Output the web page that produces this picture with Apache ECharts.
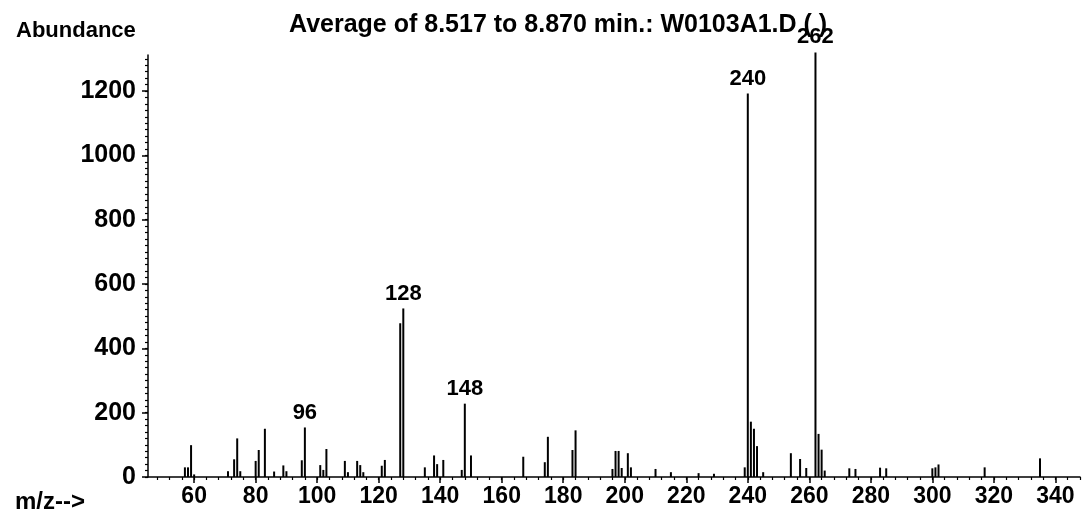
<!DOCTYPE html>
<html><head><meta charset="utf-8">
<script src="https://cdn.jsdelivr.net/npm/echarts@6/dist/echarts.min.js"></script>
<style>html,body{margin:0;padding:0;background:#fff}#c{width:1082px;height:510px}</style>
</head><body><div id="c"></div>
<script>
// m/z values of the peaks
const mz = [57,58,59,60,71,73,74,75,80,81,83,86,89,90,95,96,101,102,103,109,110,113,114,115,121,122,
  127,128,135,138,139,141,147,148,150,167,174,175,183,184,196,197,198,199,201,202,210,215,224,229,
  239,240,241,242,243,245,254,257,259,262,263,264,265,273,275,283,285,300,301,302,317,335];
// abundance of each peak
const abundance = [30,30,99,8,18,55,120,18,50,84,150,17,36,18,52,154,37,22,87,50,15,50,37,15,35,53,
  478,524,30,67,40,53,22,228,67,63,46,125,84,145,25,81,81,28,74,30,25,15,12,10,
  30,1192,172,150,96,15,74,56,28,1320,134,85,20,27,25,29,27,27,30,39,30,58];
// peaks that carry an m/z label
const labeledPeaks = [96,128,148,240,262];
// axis tick labels
const xTickLabels = [60,80,100,120,140,160,180,200,220,240,260,280,300,320,340];
const xMinorTicks = [48,52,56,60,64,68,72,76,80,84,88,92,96,100,104,108,112,116,120,124,128,132,136,140,144,148,152,156,160,164,168,172,176,180,184,188,192,196,200,204,208,212,216,220,224,228,232,236,240,244,248,252,256,260,264,268,272,276,280,284,288,292,296,300,304,308,312,316,320,324,328,332,336,340,344,348];
const yTickLabels = [0,200,400,600,800,1000,1200];
const yMinorTicks = [0,20,40,60,80,100,120,140,160,180,200,220,240,260,280,300,320,340,360,380,400,420,440,460,480,500,520,540,560,580,600,620,640,660,680,700,720,740,760,780,800,820,840,860,880,900,920,940,960,980,1000,1020,1040,1060,1080,1100,1120,1140,1160,1180,1200,1220,1240,1260,1280,1300];

const FONT = '"Liberation Sans", Arial, sans-serif';
const data = mz.map((m, i) => {
  const item = { value: [m, abundance[i]] };
  if (labeledPeaks.includes(m)) item.label = { show: true };
  return item;
});

const chart = echarts.init(document.getElementById('c'), null, { renderer: 'canvas' });
chart.setOption({
  backgroundColor: '#fff',
  animation: false,
  title: [
    { text: 'Average of 8.517 to 8.870 min.: W0103A1.D ( )', left: 284, top: 8,
      textStyle: { fontFamily: FONT, fontSize: 25, fontWeight: 'bold', color: '#000' } },
    { text: 'Abundance', left: 11, top: 15,
      textStyle: { fontFamily: FONT, fontSize: 22, fontWeight: 'bold', color: '#000' } },
    { text: 'm/z-->', left: 10, top: 485,
      textStyle: { fontFamily: FONT, fontSize: 24, fontWeight: 'bold', color: '#000' } }
  ],
  grid: { left: 148, top: 55, width: 932, height: 422, containLabel: false },
  xAxis: [
    { type: 'value', min: 45, max: 348, position: 'bottom',
      axisLine: { show: true, onZero: false, lineStyle: { color: '#000', width: 1.5 } },
      axisTick: { show: true, customValues: xTickLabels, length: 6, lineStyle: { color: '#000', width: 1.5 } },
      axisLabel: { customValues: xTickLabels, margin: 8, color: '#000', fontFamily: FONT, fontSize: 23, fontWeight: 'bold',
        formatter: v => String(v) },
      splitLine: { show: false } },
    { type: 'value', min: 45, max: 348, position: 'bottom', gridIndex: 0,
      axisLine: { show: false, onZero: false },
      axisTick: { show: true, customValues: xMinorTicks, length: 3, lineStyle: { color: '#000', width: 1.2 } },
      axisLabel: { show: false }, splitLine: { show: false } }
  ],
  yAxis: [
    { type: 'value', min: 0, max: 1312, position: 'left',
      axisLine: { show: true, onZero: false, lineStyle: { color: '#000', width: 1.5 } },
      axisTick: { show: true, customValues: yTickLabels, length: 6, lineStyle: { color: '#000', width: 1.5 } },
      axisLabel: { customValues: yTickLabels, margin: 12, color: '#000', fontFamily: FONT, fontSize: 25, fontWeight: 'bold',
        formatter: v => String(v) },
      splitLine: { show: false } },
    { type: 'value', min: 0, max: 1312, position: 'left', offset: 0,
      axisLine: { show: false, onZero: false },
      axisTick: { show: true, customValues: yMinorTicks, length: 3, lineStyle: { color: '#000', width: 1.2 } },
      axisLabel: { show: false }, splitLine: { show: false } }
  ],
  series: [{
    type: 'bar', xAxisIndex: 0, yAxisIndex: 0, barWidth: 2, clip: false,
    itemStyle: { color: '#000' },
    label: { show: false, position: 'top', distance: 4, color: '#000', fontFamily: FONT, fontSize: 22, fontWeight: 'bold',
      formatter: p => String(p.value[0]) },
    data: data
  }]
});
</script></body></html>
